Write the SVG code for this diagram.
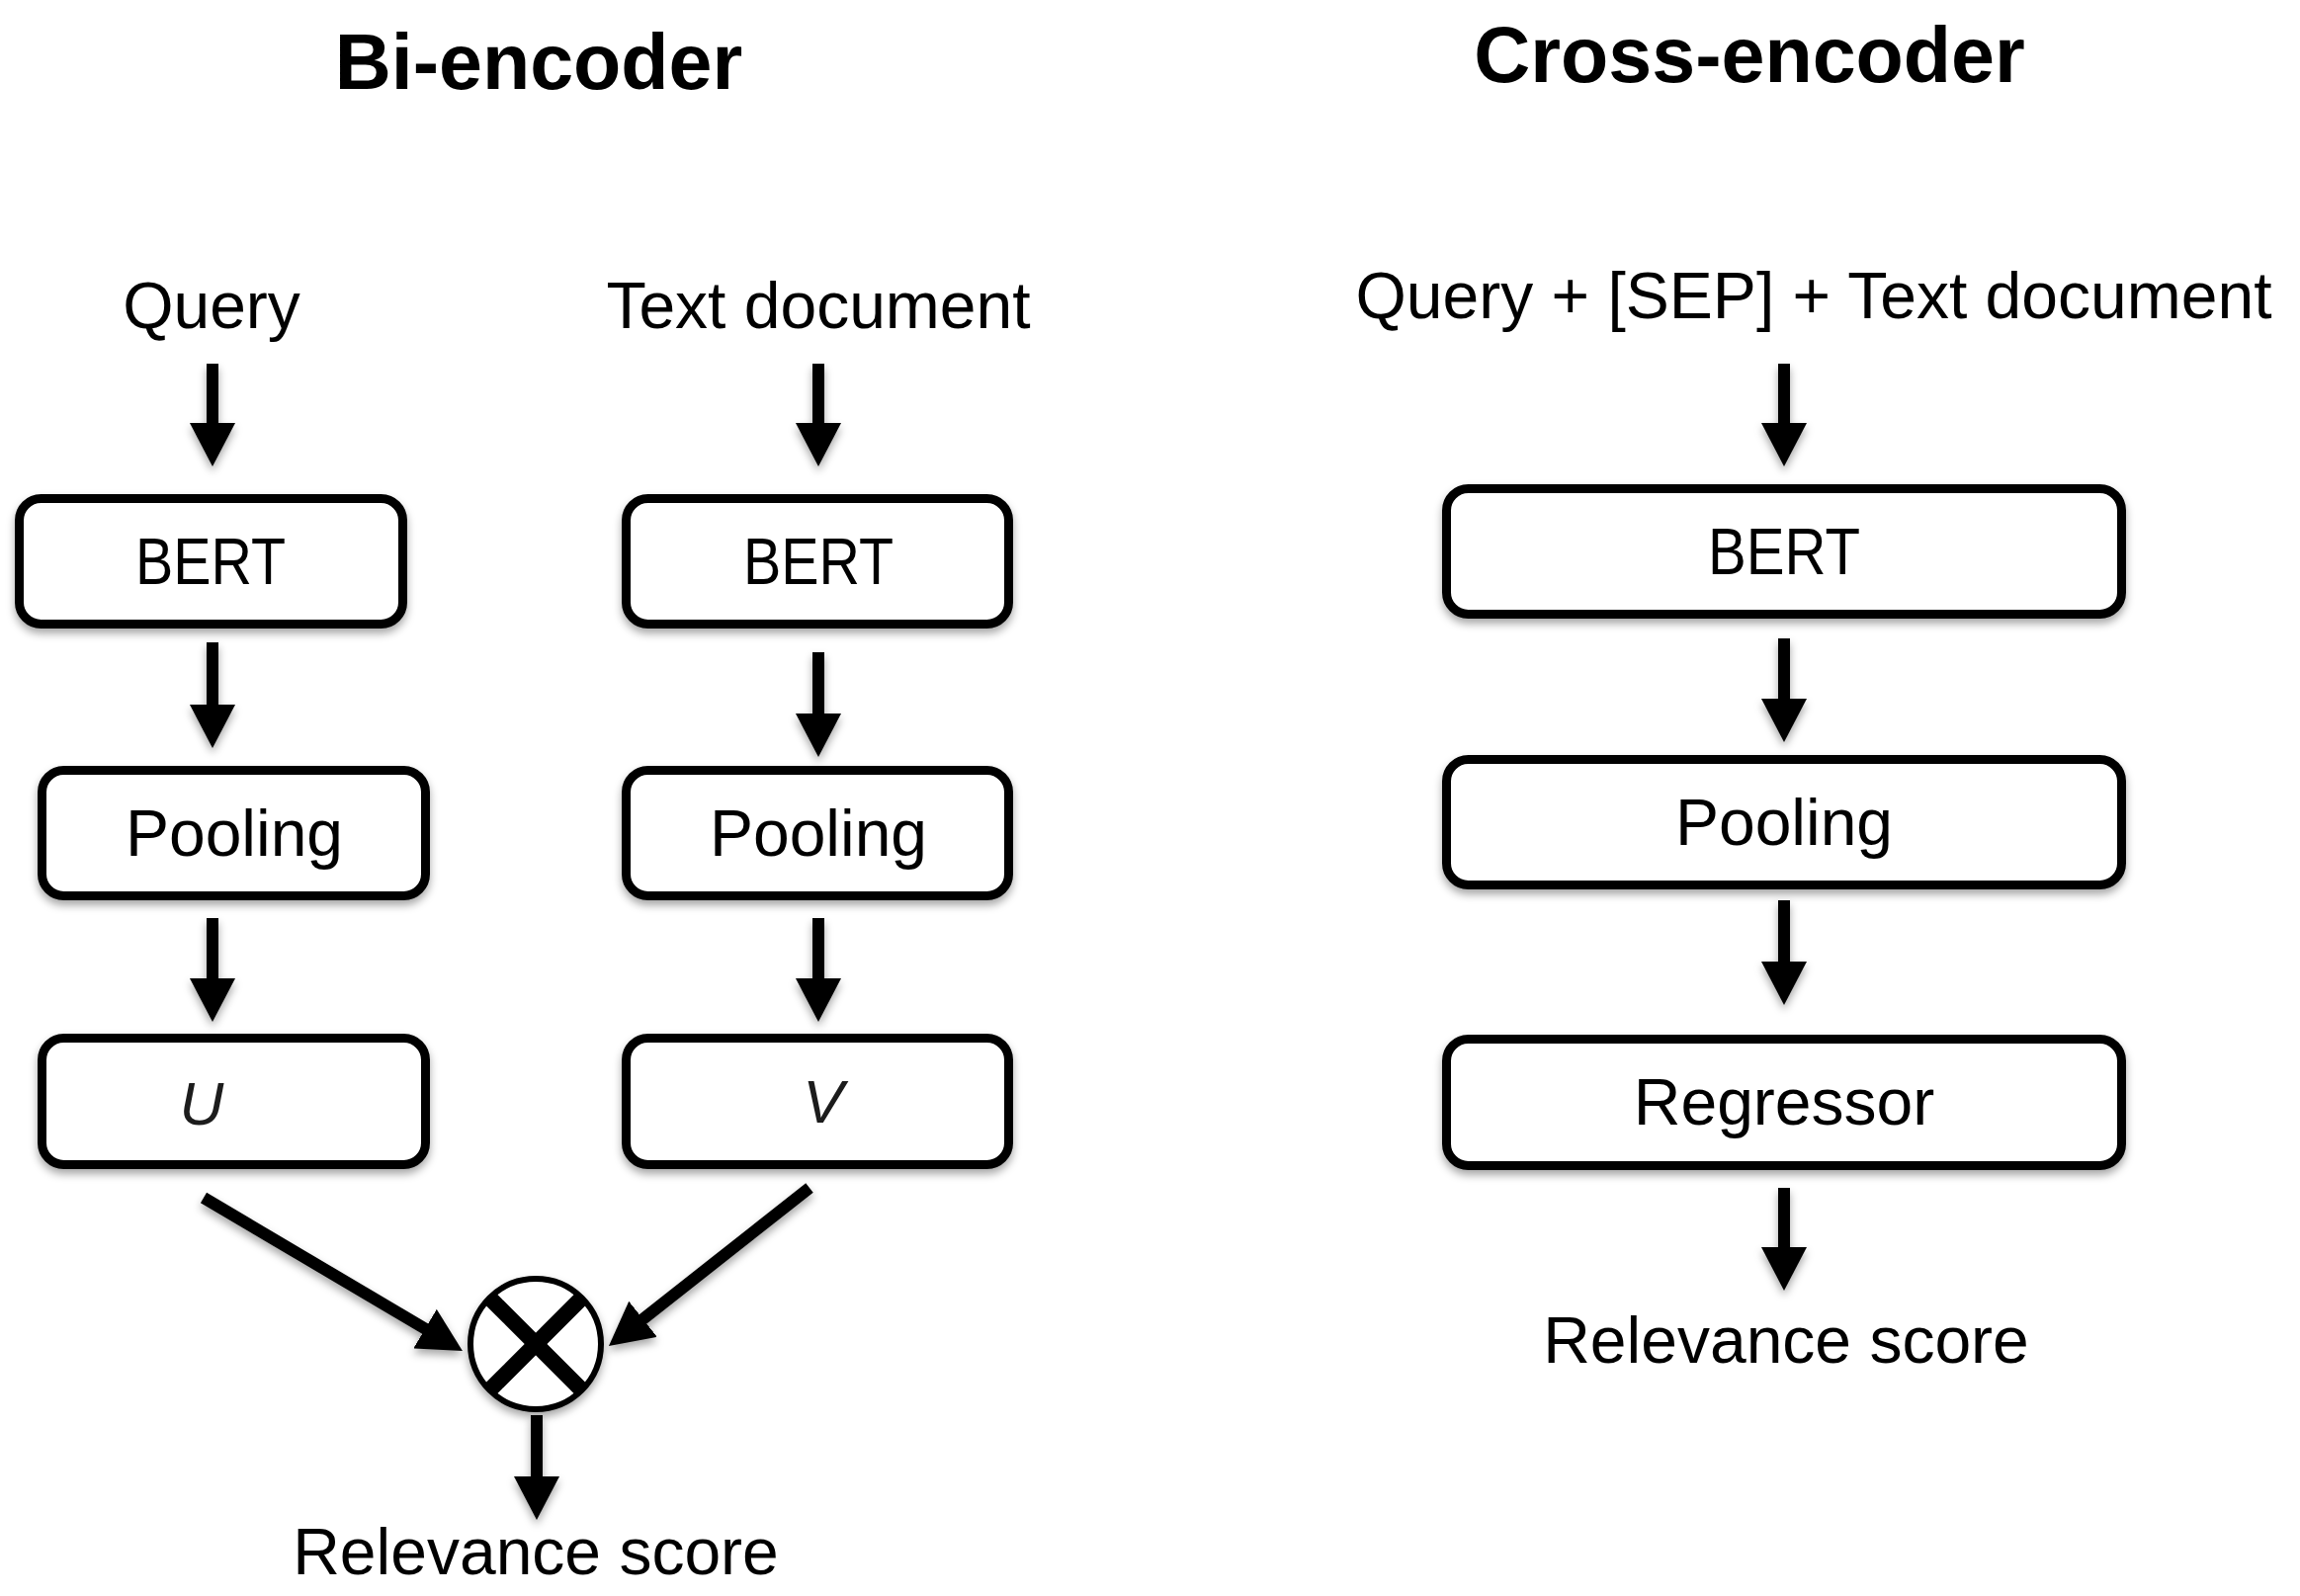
<svg xmlns="http://www.w3.org/2000/svg" width="2327" height="1615" viewBox="0 0 2327 1615">
<style>
.box{fill:#fff;stroke:#000;stroke-width:9}
.lbl{font-family:"Liberation Sans",Arial,sans-serif;font-size:66px;fill:#000;text-anchor:middle}
.it{font-family:"Liberation Sans",Arial,sans-serif;font-size:62px;font-style:italic;fill:#1a1a1a;text-anchor:middle}
.title{font-family:"Liberation Sans",Arial,sans-serif;font-size:79px;font-weight:bold;fill:#000;text-anchor:middle}
.arr{stroke:#000;stroke-width:12;fill:none;marker-end:url(#ah)}
</style>
<defs>
<filter id="sh" x="-20%" y="-20%" width="140%" height="160%">
<feDropShadow dx="0" dy="5" stdDeviation="4" flood-color="#000" flood-opacity="0.35"/>
</filter>
<marker id="ah" markerUnits="userSpaceOnUse" viewBox="0 0 44 46" markerWidth="44" markerHeight="46" refX="12" refY="23" orient="auto">
<path d="M0,0 L44,23 L0,46 z" fill="#000"/>
</marker>
<clipPath id="cc"><circle cx="542" cy="1360" r="64"/></clipPath>
</defs>
<rect width="2327" height="1615" fill="#fff"/>
<text class="title" x="545" y="90">Bi-encoder</text>
<text class="title" x="1770" y="83">Cross-encoder</text>
<g id="in-query"><text class="lbl" x="214" y="332">Query</text></g>
<g id="in-doc"><text class="lbl" x="828" y="332">Text document</text></g>
<g id="in-cross"><text class="lbl" x="1835" y="322">Query + [SEP] + Text document</text></g>
<g id="nodes" filter="url(#sh)">
<g id="bert-q"><rect class="box" x="19.5" y="504.5" width="388" height="127" rx="22"/><text class="lbl" x="213" y="591" textLength="152" lengthAdjust="spacingAndGlyphs">BERT</text></g>
<g id="pool-q"><rect class="box" x="42.5" y="779.5" width="388" height="127" rx="22"/><text class="lbl" x="237" y="866">Pooling</text></g>
<g id="u"><rect class="box" x="42.5" y="1050.5" width="388" height="128" rx="22"/><text class="it" x="204" y="1138">U</text></g>
<g id="bert-d"><rect class="box" x="633.5" y="504.5" width="387" height="127" rx="22"/><text class="lbl" x="828" y="591" textLength="152" lengthAdjust="spacingAndGlyphs">BERT</text></g>
<g id="pool-d"><rect class="box" x="633.5" y="779.5" width="387" height="127" rx="22"/><text class="lbl" x="828" y="866">Pooling</text></g>
<g id="v"><rect class="box" x="633.5" y="1050.5" width="387" height="128" rx="22"/><text class="it" x="833" y="1136">V</text></g>
<g id="bert-c"><rect class="box" x="1463.5" y="494.5" width="683" height="127" rx="22"/><text class="lbl" x="1805" y="581" textLength="154" lengthAdjust="spacingAndGlyphs">BERT</text></g>
<g id="pool-c"><rect class="box" x="1463.5" y="768.5" width="683" height="127" rx="22"/><text class="lbl" x="1805" y="855">Pooling</text></g>
<g id="reg-c"><rect class="box" x="1463.5" y="1051.5" width="683" height="128" rx="22"/><text class="lbl" x="1805" y="1138">Regressor</text></g>
<g id="mult"><circle cx="542" cy="1360" r="66" fill="#fff" stroke="#000" stroke-width="6"/>
<g clip-path="url(#cc)" stroke="#000" stroke-width="16"><line x1="492" y1="1310" x2="592" y2="1410"/><line x1="592" y1="1310" x2="492" y2="1410"/></g></g>
</g>
<g id="connectors" filter="url(#sh)">
<line class="arr" x1="215" y1="368" x2="215" y2="440"/>
<line class="arr" x1="215" y1="650" x2="215" y2="725"/>
<line class="arr" x1="215" y1="929" x2="215" y2="1002"/>
<line class="arr" x1="828" y1="368" x2="828" y2="440"/>
<line class="arr" x1="828" y1="660" x2="828" y2="734"/>
<line class="arr" x1="828" y1="929" x2="828" y2="1002"/>
<line class="arr" x1="1805" y1="368" x2="1805" y2="440"/>
<line class="arr" x1="1805" y1="646" x2="1805" y2="719"/>
<line class="arr" x1="1805" y1="911" x2="1805" y2="985"/>
<line class="arr" x1="1805" y1="1202" x2="1805" y2="1274"/>
<line class="arr" x1="206" y1="1212" x2="440.4" y2="1350.7"/>
<line class="arr" x1="819" y1="1202" x2="641.1" y2="1342.2"/>
<line class="arr" x1="543" y1="1432" x2="543" y2="1506"/>
</g>
<g id="out-bi"><text class="lbl" x="542" y="1593">Relevance score</text></g>
<g id="out-cross"><text class="lbl" x="1807" y="1379">Relevance score</text></g>
</svg>
